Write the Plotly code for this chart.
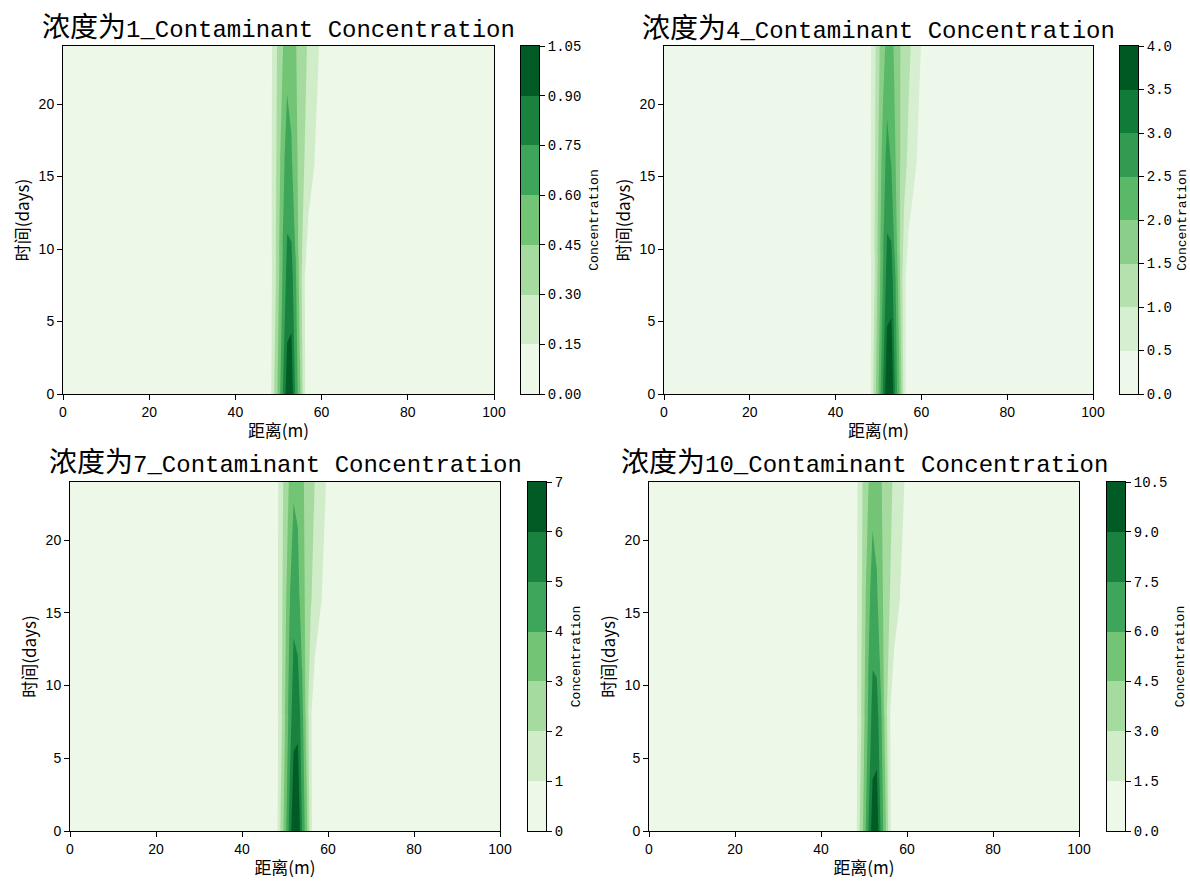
import plotly.graph_objects as go

W, H = 1190, 883

# ---------------- data ----------------
source_conc = [1, 4, 7, 10]                  # initial concentration of each case
level_step = [0.15, 0.5, 1.0, 1.5]           # contour interval of each panel
level_top = [1.05, 4.0, 7.0, 10.5]           # highest contour level of each panel
cb_format = [".2f", ".1f", "d", ".1f"]

distance = [0, 43, 44, 45, 46, 47, 48, 49, 50, 51, 52, 53, 54, 55, 56, 57, 58,
            59, 60, 61, 62, 63, 64, 65, 100]          # m
times = [0, 8, 16, 24]                                  # days
# relative concentration C/C0, one row per time
rel_t0 = [0, 0, 0, 0, 0.01, 0.03, 0.08, 0.30, 0.50, 0.75, 0.98, 1.00, 0.70,
          0.48, 0.18, 0.03, 0.01, 0, 0, 0, 0, 0, 0, 0, 0]
rel_t8 = [0, 0, 0, 0.01, 0.02, 0.04, 0.09, 0.22, 0.42, 0.62, 0.80, 0.81, 0.62,
          0.38, 0.16, 0.06, 0.02, 0.01, 0, 0, 0, 0, 0, 0, 0]
rel_t16 = [0, 0, 0, 0.01, 0.02, 0.04, 0.10, 0.22, 0.38, 0.55, 0.67, 0.62, 0.50,
           0.38, 0.30, 0.22, 0.17, 0.12, 0.07, 0.04, 0.02, 0.01, 0, 0, 0]
rel_t24 = [0, 0, 0, 0.01, 0.02, 0.05, 0.10, 0.20, 0.35, 0.44, 0.55, 0.54, 0.46,
           0.38, 0.33, 0.28, 0.22, 0.17, 0.12, 0.08, 0.05, 0.03, 0.01, 0, 0]
rel_rows = [rel_t0, rel_t8, rel_t16, rel_t24]

x_ticks = [0, 20, 40, 60, 80, 100]
y_ticks = [0, 5, 10, 15, 20]

# ---------------- style ----------------
GREENS = [(0.96862745, 0.98823529, 0.96078431), (0.89803922, 0.96078431, 0.87843137),
          (0.78039216, 0.91372549, 0.75294118), (0.63137255, 0.85098039, 0.60784314),
          (0.45490196, 0.76862745, 0.4627451), (0.25490196, 0.67058824, 0.36470588),
          (0.1372549, 0.54509804, 0.27058824), (0.0, 0.42745098, 0.17254902),
          (0.0, 0.26666667, 0.10588235)]


def greens(t):
    t = min(max(t, 0.0), 1.0)
    pos = t * (len(GREENS) - 1)
    i = min(int(pos), len(GREENS) - 2)
    f = pos - i
    c = [GREENS[i][k] + (GREENS[i + 1][k] - GREENS[i][k]) * f for k in range(3)]
    return "rgb(%d,%d,%d)" % tuple(round(v * 255) for v in c)


# pixel boxes [x0, x1, y0, y1] (from top-left)
main_box = [(63, 494, 46, 394), (664, 1093, 46, 394),
            (70, 500, 482, 831), (649, 1079, 482, 831)]
cb_box = [(521, 539, 46, 394), (1120, 1138, 46, 394),
          (528, 546, 482, 831), (1107, 1125, 482, 831)]
title_y = [28, 29, 464, 464]

TITLE_FONT = "Liberation Mono, Noto Sans CJK SC"
CJK_FONT = "Noto Sans CJK SC"
TICK_FONT = "Liberation Sans, Arial"
MONO_FONT = "Liberation Mono, Noto Sans CJK SC"


def xdom(b):
    return [b[0] / W, b[1] / W]


def ydom(b):
    return [1 - b[3] / H, 1 - b[2] / H]


fig = go.Figure()
layout = {}
annotations = []

for k in range(4):
    c0 = source_conc[k]
    step = level_step[k]
    top = level_top[k]
    nb = int(round(top / step))
    levels = [round(i * step, 6) for i in range(nb + 1)]
    band_colors = [greens((i + 0.5) / nb) for i in range(nb)]
    cscale = [[i / (nb - 1), band_colors[i]] for i in range(nb)]

    z = [[c0 * v for v in row] for row in rel_rows]

    xa = "x%d" % (2 * k + 1)
    ya = "y%d" % (2 * k + 1)
    xc = "x%d" % (2 * k + 2)
    yc = "y%d" % (2 * k + 2)

    fig.add_trace(go.Contour(
        x=distance, y=times, z=z,
        autocontour=False,
        contours=dict(start=levels[1], end=levels[-2], size=step, coloring="fill",
                      showlines=False),
        line=dict(width=0, smoothing=0),
        colorscale=cscale, showscale=False, hoverinfo="skip",
        xaxis=xa, yaxis=ya))

    # colorbar drawn as a heatmap of the bands
    fig.add_trace(go.Heatmap(
        x=[0, 1], y=levels, z=[[i] for i in range(nb)],
        zmin=0, zmax=nb - 1, colorscale=cscale, showscale=False,
        hoverinfo="skip", xaxis=xc, yaxis=yc))

    axis_line = dict(showline=True, linecolor="black", linewidth=1, mirror=True,
                     showgrid=False, zeroline=False, automargin=False)
    layout["xaxis%d" % (2 * k + 1)] = dict(
        domain=xdom(main_box[k]), anchor=ya, range=[0, 100],
        tickvals=x_ticks, ticks="outside", ticklen=5, tickwidth=1, tickcolor="black",
        tickfont=dict(family=TICK_FONT, size=14, color="black"),
        title=dict(text="距离(m)", font=dict(family=CJK_FONT, size=17, color="black"),
                   standoff=6),
        **axis_line)
    layout["yaxis%d" % (2 * k + 1)] = dict(
        domain=ydom(main_box[k]), anchor=xa, range=[0, 24],
        tickvals=y_ticks, ticks="outside", ticklen=5, tickwidth=1, tickcolor="black",
        tickfont=dict(family=TICK_FONT, size=14, color="black"),
        title=dict(text="时间(days)", font=dict(family=CJK_FONT, size=17, color="black"),
                   standoff=4),
        **axis_line)
    layout["xaxis%d" % (2 * k + 2)] = dict(
        domain=xdom(cb_box[k]), anchor=yc, range=[0, 1], showticklabels=False,
        ticks="", **axis_line)
    ticktext = [format(int(round(v)) if cb_format[k] == "d" else v, cb_format[k])
                for v in levels]
    layout["yaxis%d" % (2 * k + 2)] = dict(
        domain=ydom(cb_box[k]), anchor=xc, range=[0, top], side="right",
        tickvals=levels, ticktext=ticktext, ticks="outside", ticklen=5, tickwidth=1,
        tickcolor="black",
        tickfont=dict(family=MONO_FONT, size=14, color="black"),
        title=dict(text="Concentration", font=dict(family=MONO_FONT, size=13, color="black"),
                   standoff=8),
        **axis_line)

    b = main_box[k]
    annotations.append(dict(
        text='<span style="font-size:28px">浓度为</span>%d_Contaminant Concentration' % c0,
        xref="paper", yref="paper", x=(b[0] + b[1]) / 2 / W, y=1 - title_y[k] / H,
        xanchor="center", yanchor="middle", showarrow=False,
        font=dict(family=TITLE_FONT, size=24, color="black")))

fig.update_layout(
    width=W, height=H, margin=dict(l=0, r=0, t=0, b=0),
    paper_bgcolor="white", plot_bgcolor="white",
    showlegend=False, annotations=annotations, **layout)

fig.write_html("out.html", config={"displayModeBar": False},
               post_script="document.body.style.margin='0px';")
